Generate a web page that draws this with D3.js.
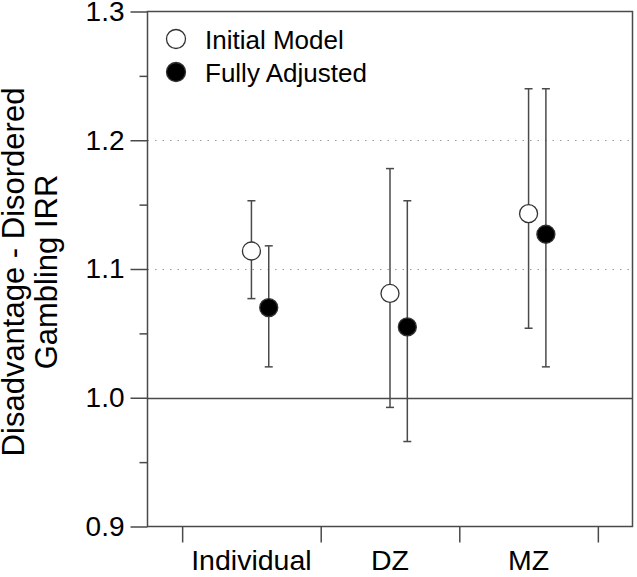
<!DOCTYPE html>
<html>
<head>
<meta charset="utf-8">
<script src="https://cdn.jsdelivr.net/npm/d3@7"></script>
<style>
  html, body { margin: 0; padding: 0; background: #fff; }
  svg text { font-family: "Liberation Sans", Arial, Helvetica, sans-serif; fill: #000; }
</style>
</head>
<body>
<svg id="chart" width="637" height="577"></svg>
<script>
const categories = ["Individual", "DZ", "MZ"];
const seriesNames = ["Initial Model", "Fully Adjusted"];
const initialEst = [1.114, 1.081, 1.143];
const initialLo  = [1.077, 0.9925, 1.054];
const initialHi  = [1.153, 1.178, 1.240];
const adjEst = [1.070, 1.055, 1.127];
const adjLo  = [1.024, 0.966, 1.024];
const adjHi  = [1.118, 1.153, 1.240];
const yMajorTicks = [0.9, 1.0, 1.1, 1.2, 1.3];
const yMinorTicks = [0.95, 1.05, 1.15, 1.25];
const gridValues = [1.1, 1.2];
const refValue = 1.0;

const svg = d3.select("#chart");
const L = 147.5, R = 632.5, T = 11.5, B = 526.5;
const lineColor = "#4a4a4a";

const x = d3.scaleLinear().domain([-0.75, 2.75]).range([L, R]);
const y = d3.scaleLinear().domain([0.9, 1.3]).range([B, T]);
const offsets = [0, 0.125];

// grid dotted lines
svg.selectAll("line.grid").data(gridValues).enter().append("line")
  .attr("x1", L).attr("x2", R)
  .attr("y1", d => Math.round(y(d)) + 0.5).attr("y2", d => Math.round(y(d)) + 0.5)
  .attr("stroke", "#9a9a9a").attr("stroke-width", 1.2)
  .attr("stroke-dasharray", "1.5,6");

// reference line
svg.append("line")
  .attr("x1", L).attr("x2", R)
  .attr("y1", Math.round(y(refValue)) + 0.5).attr("y2", Math.round(y(refValue)) + 0.5)
  .attr("stroke", lineColor).attr("stroke-width", 1.5);

// Y axis major
const yAxis = d3.axisLeft(y).tickValues(yMajorTicks).tickFormat(d3.format(".1f"))
  .tickSize(17).tickPadding(6);
const gy = svg.append("g").attr("transform", `translate(${L},0)`).call(yAxis);
gy.select(".domain").remove();
gy.selectAll("line").attr("stroke", lineColor).attr("stroke-width", 1.5);
gy.selectAll("text").attr("font-size", 28).attr("font-family", "Liberation Sans, Arial, sans-serif").attr("fill", "#000");

// Y axis minor
const yAxisMinor = d3.axisLeft(y).tickValues(yMinorTicks).tickFormat("").tickSize(8);
const gym = svg.append("g").attr("transform", `translate(${L},0)`).call(yAxisMinor);
gym.select(".domain").remove();
gym.selectAll("line").attr("stroke", lineColor).attr("stroke-width", 1.5);

// X axis ticks (boundaries)
const xAxis = d3.axisBottom(x).tickValues([-0.5, 0.5, 1.5, 2.5]).tickFormat("").tickSize(16);
const gx = svg.append("g").attr("transform", `translate(0,${B})`).call(xAxis);
gx.select(".domain").remove();
gx.selectAll("line").attr("stroke", lineColor).attr("stroke-width", 1.5);

// category labels
svg.selectAll("text.cat").data(categories).enter().append("text")
  .attr("x", (d, i) => x(i)).attr("y", 570)
  .attr("text-anchor", "middle").attr("font-size", 28.5)
  .text(d => d);

// box
svg.append("rect").attr("x", L).attr("y", T).attr("width", R - L).attr("height", B - T)
  .attr("fill", "none").attr("stroke", lineColor).attr("stroke-width", 1.5);

// error bars and points
const series = [
  { est: initialEst, lo: initialLo, hi: initialHi, fill: "#fff" },
  { est: adjEst, lo: adjLo, hi: adjHi, fill: "#000" }
];
const capHalf = 4;
series.forEach((s, si) => {
  const g = svg.append("g");
  categories.forEach((c, i) => {
    const cx = x(i + offsets[si]);
    g.append("line").attr("x1", cx).attr("x2", cx).attr("y1", y(s.lo[i])).attr("y2", y(s.hi[i]))
      .attr("stroke", lineColor).attr("stroke-width", 1.5);
    [s.lo[i], s.hi[i]].forEach(v => {
      g.append("line").attr("x1", cx - capHalf).attr("x2", cx + capHalf)
        .attr("y1", y(v)).attr("y2", y(v))
        .attr("stroke", lineColor).attr("stroke-width", 1.5);
    });
  });
  g.selectAll("circle").data(s.est).enter().append("circle")
    .attr("cx", (d, i) => x(i + offsets[si])).attr("cy", d => y(d)).attr("r", 9)
    .attr("fill", s.fill).attr("stroke", "#333").attr("stroke-width", 1.3);
});

// legend
const legFills = ["#fff", "#000"];
const legY = [39, 72];
seriesNames.forEach((n, i) => {
  svg.append("circle").attr("cx", 176).attr("cy", legY[i]).attr("r", 9.5)
    .attr("fill", legFills[i]).attr("stroke", "#333").attr("stroke-width", 1.3);
  svg.append("text").attr("x", 205).attr("y", legY[i] + 9.5).attr("font-size", 26).text(n);
});

// y title
const yt = svg.append("g").attr("transform", `translate(0,${(T + B) / 2 + 3}) rotate(-90)`);
yt.append("text").attr("x", 0).attr("y", 24).attr("text-anchor", "middle").attr("font-size", 31)
  .text("Disadvantage - Disordered");
yt.append("text").attr("x", 0).attr("y", 57).attr("text-anchor", "middle").attr("font-size", 31)
  .text("Gambling IRR");
</script>
</body>
</html>
